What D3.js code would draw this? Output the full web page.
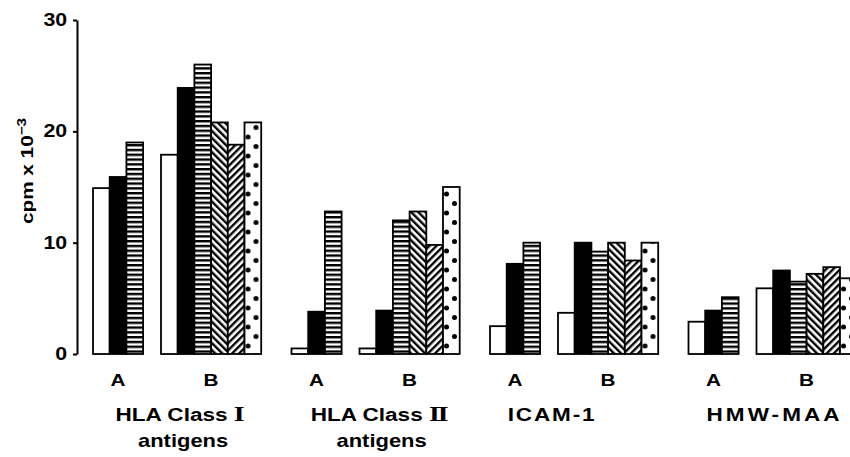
<!DOCTYPE html>
<html>
<head>
<meta charset="utf-8">
<script src="https://cdn.jsdelivr.net/npm/d3@7"></script>
<style>
  html, body { margin: 0; padding: 0; background: #fff; }
  svg { display: block; }
  text { font-family: "Liberation Sans", Arial, Helvetica, sans-serif; fill: #000; font-weight: bold; }
</style>
</head>
<body>
<svg id="chart" width="850" height="457"></svg>
<script>
// Antigen groups, each measured under condition A and condition B
const groups = ["HLA Class I antigens", "HLA Class II antigens", "ICAM-1", "HMW-MAA"];
const conditions = ["A", "B"];
const seriesNames = ["open", "solid", "hstripe", "backhatch", "fwdhatch", "dots"];

// cpm x 10^-3, ordered [g1A, g1B, g2A, g2B, g3A, g3B, g4A, g4B]; null = not measured
const openValues      = [14.9, 17.9,  0.5,  0.5,  2.5,  3.7, 2.9, 5.9];
const solidValues     = [15.9, 23.9,  3.8,  3.9,  8.1, 10.0, 3.9, 7.5];
const hStripeValues   = [19.0, 26.0, 12.8, 12.0, 10.0,  9.2, 5.1, 6.5];
const backHatchValues = [null, 20.8, null, 12.8, null, 10.0, null, 7.2];
const fwdHatchValues  = [null, 18.8, null,  9.8, null,  8.4, null, 7.8];
const dotValues       = [null, 20.8, null, 15.0, null, 10.0, null, 6.8];

const yTicks = [0, 10, 20, 30];
const yTitle = "cpm  x 10";
const yTitleExp = "−3";

// group title lines: text, roman numeral suffix, second line
const labelLine1 = ["HLA Class ", "HLA Class ", "ICAM-1", "HMW-MAA"];
const labelNumeral = ["Ⅰ", "Ⅱ", "", ""];
const labelLine2 = ["antigens", "antigens", "", ""];

// layout: shift of each group title from its group centre, and extra tracking
const labelShift = [3, 4, -22, 2];
const line2Shift = [3, 2, 0, 0];
const labelTracking = [0, 0, 1.5, 2.5];

const seriesValues = [openValues, solidValues, hStripeValues, backHatchValues, fwdHatchValues, dotValues];

const svg = d3.select("#chart");
const defs = svg.append("defs");

const y = d3.scaleLinear().domain([0, 30]).range([354, 20]);
const groupX = d3.scaleBand().domain(groups).range([93, 93 + 4 * 198.5]).paddingInner(0).paddingOuter(0);
const condX = d3.scaleBand().domain(conditions).range([0, 136]);
const barW = 16.7;
const seriesX = d3.scaleBand().domain(seriesNames).range([0, 6 * barW]);

// text is set wide, as in the printed lettering
const WIDE = 1.22;

// Build bar records
const bars = [];
groups.forEach((g, gi) => {
  conditions.forEach((c, ci) => {
    const idx = gi * 2 + ci;
    seriesNames.forEach((s, si) => {
      const v = seriesValues[si][idx];
      if (v == null) return;
      bars.push({ group: g, cond: c, series: s, value: v,
                  x: groupX(g) + condX(c) + seriesX(s), id: `p-${gi}-${ci}-${si}` });
    });
  });
});

// Fill patterns, one per bar so each tiles from the bar's own left edge
function makePattern(b) {
  if (b.series === "open") return "#fff";
  if (b.series === "solid") return "#000";
  const p = defs.append("pattern").attr("id", b.id).attr("patternUnits", "userSpaceOnUse");
  if (b.series === "hstripe") {
    p.attr("x", b.x).attr("y", 0).attr("width", 20).attr("height", 4.8);
    p.append("rect").attr("width", 20).attr("height", 4.8).attr("fill", "#fff");
    p.append("rect").attr("y", 0).attr("width", 20).attr("height", 2.4).attr("fill", "#000");
  } else if (b.series === "backhatch" || b.series === "fwdhatch") {
    p.attr("x", b.x).attr("y", 0).attr("width", 5).attr("height", 5)
     .attr("patternTransform", `rotate(${b.series === "backhatch" ? -45 : 45})`);
    p.append("rect").attr("width", 5).attr("height", 5).attr("fill", "#fff");
    p.append("rect").attr("width", 2.4).attr("height", 5).attr("fill", "#000");
  } else if (b.series === "dots") {
    p.attr("x", b.x).attr("y", 0).attr("width", 17).attr("height", 19);
    p.append("rect").attr("width", 17).attr("height", 19).attr("fill", "#fff");
    p.append("circle").attr("cx", 3.5).attr("cy", 4).attr("r", 2.5).attr("fill", "#000");
    p.append("circle").attr("cx", 11.5).attr("cy", 13.5).attr("r", 2.5).attr("fill", "#000");
  }
  return `url(#${b.id})`;
}

svg.append("g").selectAll("rect")
  .data(bars)
  .join("rect")
  .attr("x", d => d.x)
  .attr("y", d => y(d.value))
  .attr("width", barW)
  .attr("height", d => y(0) - y(d.value))
  .attr("fill", d => makePattern(d))
  .attr("stroke", "#000")
  .attr("stroke-width", 1.8);

// Y axis
const yAxis = svg.append("g")
  .attr("transform", "translate(77,0)")
  .call(d3.axisLeft(y).tickValues(yTicks).tickSize(4).tickSizeOuter(0).tickPadding(4));
yAxis.select(".domain").attr("stroke", "#000").attr("stroke-width", 2);
yAxis.selectAll(".tick line").attr("stroke", "#000").attr("stroke-width", 2);
yAxis.selectAll(".tick text")
  .attr("transform", `scale(${WIDE},1)`)
  .style("font-family", "'Liberation Sans', Arial, sans-serif")
  .style("font-size", "17.5px").style("font-weight", "bold").attr("fill", "#000");

// helper: horizontally widened text anchored at (x, y)
function wideText(x, yy, size, anchor) {
  return svg.append("g")
    .attr("transform", `translate(${x},${yy}) scale(${WIDE},1)`)
    .append("text")
    .attr("text-anchor", anchor || "middle")
    .style("font-size", size + "px");
}

// Y title (rotated; widened along its own reading direction)
const yt = svg.append("g")
  .attr("transform", `translate(33,171) rotate(-90) scale(${WIDE},1)`)
  .append("text")
  .attr("text-anchor", "middle")
  .style("font-size", "17px");
yt.append("tspan").text(yTitle);
yt.append("tspan").attr("dy", -7).style("font-size", "12.5px").text(yTitleExp);

// Condition labels under each cluster
groups.forEach(g => {
  conditions.forEach(c => {
    const n = c === "A" ? 3 : 6;
    wideText(groupX(g) + condX(c) + n * barW / 2, 386, 17).text(c);
  });
});

// Group titles
groups.forEach((g, gi) => {
  const cx = groupX(g) + (condX("A") + condX("B") + 6 * barW) / 2;
  const t = wideText(cx + labelShift[gi], 420.5, 18.5)
    .style("letter-spacing", labelTracking[gi] + "px");
  t.append("tspan").text(labelLine1[gi]);
  if (labelNumeral[gi]) {
    t.append("tspan").style("font-family", "'DejaVu Serif', 'Liberation Serif', serif")
      .style("font-weight", "bold").style("font-size", "19px").text(labelNumeral[gi]);
  }
  if (labelLine2[gi]) {
    wideText(cx + labelShift[gi] + line2Shift[gi], 447, 18).text(labelLine2[gi]);
  }
});
</script>
</body>
</html>
